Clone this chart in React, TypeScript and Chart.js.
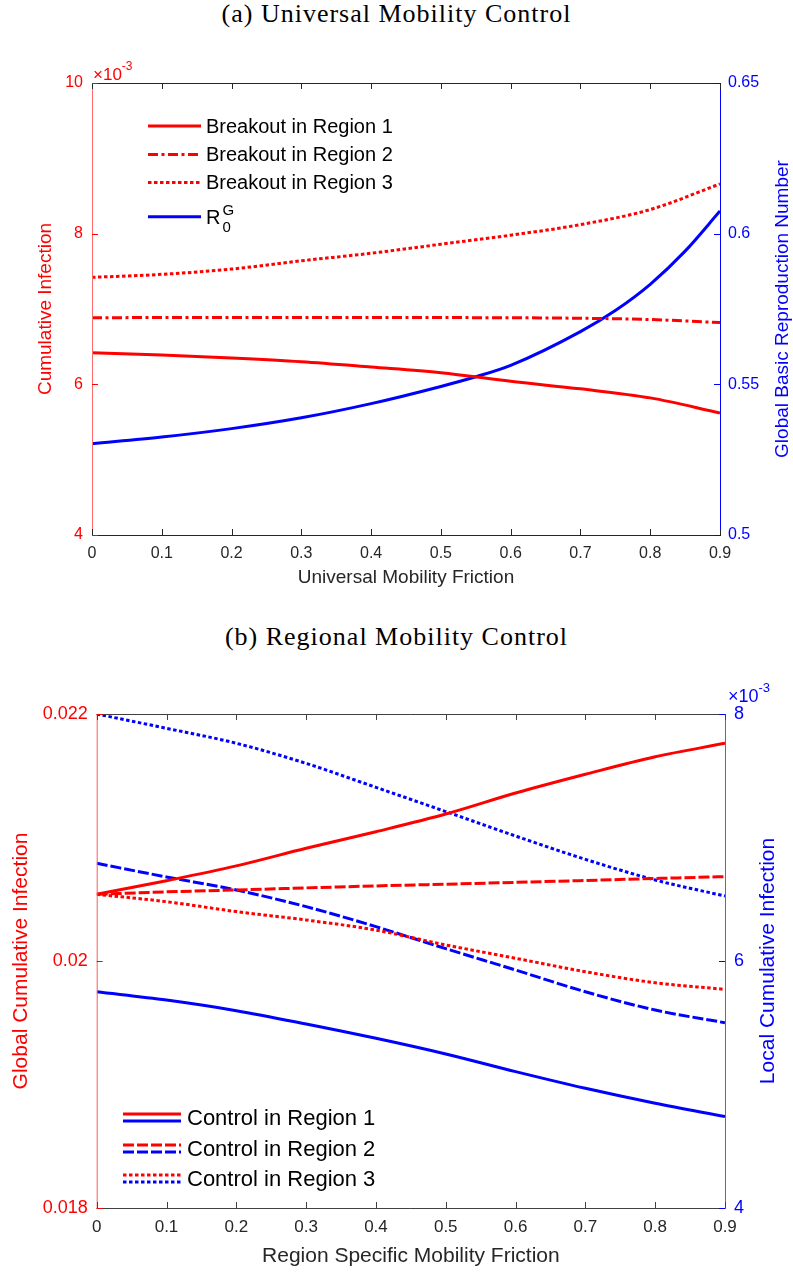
import React, { useEffect, useRef } from 'react';
import { Chart, registerables } from 'chart.js';

Chart.register(...registerables);

const SANS = '"Liberation Sans", Arial, Helvetica, sans-serif';
const SERIF = '"Liberation Serif", "Times New Roman", serif';

// ---------- (a) Universal Mobility Control ----------
const topX = [0, 0.1, 0.2, 0.3, 0.4, 0.5, 0.6, 0.7, 0.8, 0.9];
// Cumulative infection, in units of 1e-3
const breakout1 = [6.42, 6.39, 6.35, 6.3, 6.23, 6.155, 6.04, 5.94, 5.82, 5.62];
const breakout2 = [6.885, 6.886, 6.887, 6.887, 6.887, 6.886, 6.884, 6.877, 6.86, 6.82];
const breakout3 = [7.42, 7.46, 7.53, 7.64, 7.74, 7.86, 7.98, 8.12, 8.32, 8.66];
const r0X = [0, 0.1, 0.2, 0.3, 0.4, 0.5, 0.55, 0.6, 0.7, 0.75, 0.8, 0.85, 0.9];
const r0G = [0.5303, 0.5325, 0.5353, 0.5389, 0.5436, 0.5493, 0.5525, 0.5563, 0.5675, 0.5745, 0.5832, 0.5942, 0.6075];

const topXTicks = [0, 0.1, 0.2, 0.3, 0.4, 0.5, 0.6, 0.7, 0.8, 0.9];
const topXTickLabels = ['0', '0.1', '0.2', '0.3', '0.4', '0.5', '0.6', '0.7', '0.8', '0.9'];
const topLeftTicks = [4, 6, 8, 10];
const topLeftTickLabels = ['4', '6', '8', '10'];
const topRightTicks = [0.5, 0.55, 0.6, 0.65];
const topRightTickLabels = ['0.5', '0.55', '0.6', '0.65'];
const topLegend = ['Breakout in Region 1', 'Breakout in Region 2', 'Breakout in Region 3'];

// ---------- (b) Regional Mobility Control ----------
const botX = [0, 0.1, 0.2, 0.3, 0.4, 0.5, 0.6, 0.7, 0.8, 0.9];
const ctrl1Global = [0.02054, 0.02065, 0.02077, 0.020913, 0.021047, 0.02119, 0.02136, 0.021512, 0.021654, 0.021763];
const ctrl2Global = [0.02054, 0.02056, 0.020575, 0.020592, 0.020608, 0.020622, 0.020637, 0.020652, 0.020668, 0.020683];
const ctrl3Global = [0.02054, 0.02048, 0.0204, 0.020332, 0.02025, 0.02013, 0.020022, 0.019913, 0.019824, 0.01977];
// Local cumulative infection, in units of 1e-3
const ctrl1Local = [5.751, 5.684, 5.598, 5.49, 5.374, 5.247, 5.104, 4.969, 4.848, 4.74];
const ctrl2Local = [6.791, 6.68, 6.575, 6.44, 6.278, 6.1, 5.927, 5.751, 5.603, 5.5];
const ctrl3Local = [8.0, 7.884, 7.763, 7.6, 7.406, 7.21, 7.012, 6.823, 6.656, 6.526];

const botXTicks = [0, 0.1, 0.2, 0.3, 0.4, 0.5, 0.6, 0.7, 0.8, 0.9];
const botXTickLabels = ['0', '0.1', '0.2', '0.3', '0.4', '0.5', '0.6', '0.7', '0.8', '0.9'];
const botLeftTicks = [0.018, 0.02, 0.022];
const botLeftTickLabels = ['0.018', '0.02', '0.022'];
const botRightTicks = [4, 6, 8];
const botRightTickLabels = ['4', '6', '8'];
const botLegend = ['Control in Region 1', 'Control in Region 2', 'Control in Region 3'];

const RED = '#ff0000';
const BLUE = '#0000ff';
const DARK = '#262626';
const SOLID: number[] = [];
const DASHDOT = [10, 3.5, 3, 3.5];
const DOTTED = [3.5, 2.5];
const DASHED = [11, 3];

function pts(xs: number[], ys: number[]) {
  return xs.map((x, i) => ({ x, y: ys[i] }));
}

function ds(xs: number[], ys: number[], axis: string, color: string, dash: number[]) {
  return {
    data: pts(xs, ys),
    yAxisID: axis,
    borderColor: color,
    backgroundColor: color,
    borderWidth: 3,
    borderDash: dash,
    pointRadius: 0,
    fill: false,
    cubicInterpolationMode: 'monotone' as const,
  };
}

function line(ctx: CanvasRenderingContext2D, x1: number, y1: number, x2: number, y2: number, color: string, w = 1) {
  ctx.beginPath();
  ctx.strokeStyle = color;
  ctx.lineWidth = w;
  ctx.setLineDash([]);
  ctx.moveTo(x1, y1);
  ctx.lineTo(x2, y2);
  ctx.stroke();
}

function vText(ctx: CanvasRenderingContext2D, text: string, x: number, y: number, font: string, color: string) {
  ctx.save();
  ctx.translate(x, y);
  ctx.rotate(-Math.PI / 2);
  ctx.font = font;
  ctx.fillStyle = color;
  ctx.textAlign = 'center';
  ctx.textBaseline = 'middle';
  ctx.fillText(text, 0, 0);
  ctx.restore();
}

function scaleCfg(pos: string, min: number, max: number, ticks: number[], labels: string[], color: string, size: number, pad: number, fit: (s: any) => void) {
  return {
    type: 'linear' as const,
    position: pos,
    min,
    max,
    grid: { display: false, drawTicks: false },
    border: { display: false },
    afterBuildTicks: (s: any) => {
      s.ticks = ticks.map((v) => ({ value: v }));
    },
    afterFit: fit,
    ticks: {
      autoSkip: false,
      maxRotation: 0,
      padding: pad,
      color,
      font: { family: SANS, size },
      callback: (_v: any, i: number) => labels[i],
    },
  };
}

function TopChart() {
  const ref = useRef<HTMLCanvasElement>(null);
  useEffect(() => {
    const padTop = 43, leftW = 92, rightW = 73, xH = 65;
    const decor = {
      id: 'decorTop',
      afterDraw(chart: any) {
        const ctx: CanvasRenderingContext2D = chart.ctx;
        const { left, right, top, bottom } = chart.chartArea;
        const xs = chart.scales.x, yl = chart.scales.y, yr = chart.scales.y1;
        ctx.save();
        line(ctx, left, top + 0.5, right, top + 0.5, DARK);
        line(ctx, left, bottom + 0.5, right, bottom + 0.5, DARK);
        line(ctx, left + 0.5, top, left + 0.5, bottom + 1, '#ff6a6a');
        line(ctx, right + 0.5, top, right + 0.5, bottom + 1, BLUE);
        topXTicks.forEach((v) => {
          const px = Math.round(xs.getPixelForValue(v)) + 0.5;
          line(ctx, px, bottom, px, bottom - 6, DARK);
          line(ctx, px, top, px, top + 6, DARK);
        });
        topLeftTicks.forEach((v) => {
          const py = Math.round(yl.getPixelForValue(v)) + 0.5;
          line(ctx, left, py, left + 6, py, RED);
        });
        topRightTicks.forEach((v) => {
          const py = Math.round(yr.getPixelForValue(v)) + 0.5;
          line(ctx, right, py, right - 6, py, BLUE);
        });
        // axis titles
        vText(ctx, 'Cumulative Infection', left - 46, (top + bottom) / 2, `19px ${SANS}`, RED);
        vText(ctx, 'Global Basic Reproduction Number', right + 63, (top + bottom) / 2, `19px ${SANS}`, BLUE);
        ctx.font = `19px ${SANS}`;
        ctx.fillStyle = DARK;
        ctx.textAlign = 'center';
        ctx.textBaseline = 'middle';
        ctx.fillText('Universal Mobility Friction', (left + right) / 2, bottom + 43);
        // multiplier
        ctx.fillStyle = RED;
        ctx.textAlign = 'left';
        ctx.font = `17px ${SANS}`;
        ctx.fillText('\u00d710', left + 1, top - 8);
        const w10 = ctx.measureText('\u00d710').width;
        ctx.font = `12px ${SANS}`;
        ctx.fillText('-3', left + 1 + w10, top - 16);
        // legend
        const lx1 = left + 56, lx2 = left + 109, tx = left + 114;
        const rows = [top + 43, top + 71.5, top + 99.5, top + 133.7];
        const styles = [
          [RED, SOLID],
          [RED, DASHDOT],
          [RED, DOTTED],
          [BLUE, SOLID],
        ] as [string, number[]][];
        styles.forEach(([c, d], i) => {
          ctx.beginPath();
          ctx.strokeStyle = c;
          ctx.lineWidth = 3;
          ctx.setLineDash(d);
          ctx.moveTo(lx1, rows[i]);
          ctx.lineTo(lx2, rows[i]);
          ctx.stroke();
        });
        ctx.setLineDash([]);
        ctx.fillStyle = '#000000';
        ctx.font = `20px ${SANS}`;
        ctx.textAlign = 'left';
        ctx.textBaseline = 'middle';
        topLegend.forEach((t, i) => ctx.fillText(t, tx, rows[i] + 1));
        ctx.fillText('R', tx, rows[3] + 2);
        const rw = ctx.measureText('R').width;
        ctx.font = `15px ${SANS}`;
        ctx.fillText('G', tx + rw + 2, rows[3] - 6);
        ctx.fillText('0', tx + rw + 2, rows[3] + 11);
        ctx.restore();
      },
    };
    const chart = new Chart(ref.current as HTMLCanvasElement, {
      type: 'line',
      data: {
        datasets: [
          ds(topX, breakout1, 'y', RED, SOLID),
          ds(topX, breakout2, 'y', RED, DASHDOT),
          ds(topX, breakout3, 'y', RED, DOTTED),
          ds(r0X, r0G, 'y1', BLUE, SOLID),
        ] as any,
      },
      options: {
        responsive: false,
        animation: false,
        layout: { padding: { top: padTop, left: 0, right: 0, bottom: 0 }, autoPadding: false } as any,
        plugins: { legend: { display: false }, title: { display: false }, tooltip: { enabled: false } },
        scales: {
          x: scaleCfg('bottom', 0, 0.9, topXTicks, topXTickLabels, DARK, 16, 9, (s: any) => { s.height = xH; }),
          y: scaleCfg('left', 4, 10, topLeftTicks, topLeftTickLabels, RED, 16, 9, (s: any) => { s.width = leftW; }),
          y1: scaleCfg('right', 0.5, 0.65, topRightTicks, topRightTickLabels, BLUE, 16, 8, (s: any) => { s.width = rightW; }),
        } as any,
      },
      plugins: [decor],
    });
    return () => chart.destroy();
  }, []);
  return <canvas ref={ref} width={793} height={560} style={{ position: 'absolute', left: 0, top: 40, width: 793, height: 560 }} />;
}

function BottomChart() {
  const ref = useRef<HTMLCanvasElement>(null);
  useEffect(() => {
    const padTop = 54, leftW = 96.7, rightW = 68, xH = 67;
    const decor = {
      id: 'decorBot',
      afterDraw(chart: any) {
        const ctx: CanvasRenderingContext2D = chart.ctx;
        const { left, right, top, bottom } = chart.chartArea;
        const xs = chart.scales.x, yl = chart.scales.y, yr = chart.scales.y1;
        ctx.save();
        line(ctx, left, top + 0.5, right, top + 0.5, '#404040');
        line(ctx, left, bottom + 0.5, right, bottom + 0.5, '#404040');
        line(ctx, left + 0.5, top, left + 0.5, bottom + 1, '#ff5a5a');
        line(ctx, right + 0.5, top, right + 0.5, bottom + 1, '#5a5aff');
        botXTicks.forEach((v) => {
          const px = Math.round(xs.getPixelForValue(v)) + 0.5;
          line(ctx, px, bottom, px, bottom - 6, '#404040');
          line(ctx, px, top, px, top + 6, '#404040');
        });
        botLeftTicks.forEach((v) => {
          const py = Math.round(yl.getPixelForValue(v)) + 0.5;
          line(ctx, left, py, left + 6, py, RED);
        });
        botRightTicks.forEach((v) => {
          const py = Math.round(yr.getPixelForValue(v)) + 0.5;
          line(ctx, right, py, right - 6, py, BLUE);
        });
        vText(ctx, 'Global Cumulative Infection', left - 75, (top + bottom) / 2, `21px ${SANS}`, RED);
        vText(ctx, 'Local Cumulative Infection', right + 43, (top + bottom) / 2, `21px ${SANS}`, BLUE);
        ctx.font = `21px ${SANS}`;
        ctx.fillStyle = DARK;
        ctx.textAlign = 'center';
        ctx.textBaseline = 'middle';
        ctx.fillText('Region Specific Mobility Friction', (left + right) / 2, bottom + 48);
        // multiplier
        ctx.fillStyle = BLUE;
        ctx.textAlign = 'left';
        ctx.font = `18px ${SANS}`;
        ctx.fillText('\u00d710', right + 3, top - 17);
        const w10 = ctx.measureText('\u00d710').width;
        ctx.font = `13px ${SANS}`;
        ctx.fillText('-3', right + 3 + w10, top - 26);
        // legend (red over blue double lines)
        const lx1 = left + 26.3, lx2 = left + 84.3, tx = left + 90.3;
        const rows = [bottom - 90.5, bottom - 59.5, bottom - 29.5];
        const dashes = [SOLID, DASHED, DOTTED];
        dashes.forEach((d, i) => {
          [[RED, -3.5], [BLUE, 3.5]].forEach(([c, off]) => {
            ctx.beginPath();
            ctx.strokeStyle = c as string;
            ctx.lineWidth = 3;
            ctx.setLineDash(d);
            ctx.moveTo(lx1, rows[i] + (off as number));
            ctx.lineTo(lx2, rows[i] + (off as number));
            ctx.stroke();
          });
        });
        ctx.setLineDash([]);
        ctx.fillStyle = '#000000';
        ctx.font = `22px ${SANS}`;
        ctx.textAlign = 'left';
        ctx.textBaseline = 'middle';
        botLegend.forEach((t, i) => ctx.fillText(t, tx, rows[i] + 1));
        ctx.restore();
      },
    };
    const chart = new Chart(ref.current as HTMLCanvasElement, {
      type: 'line',
      data: {
        datasets: [
          ds(botX, ctrl1Global, 'y', RED, SOLID),
          ds(botX, ctrl2Global, 'y', RED, DASHED),
          ds(botX, ctrl3Global, 'y', RED, DOTTED),
          ds(botX, ctrl1Local, 'y1', BLUE, SOLID),
          ds(botX, ctrl2Local, 'y1', BLUE, DASHED),
          ds(botX, ctrl3Local, 'y1', BLUE, DOTTED),
        ] as any,
      },
      options: {
        responsive: false,
        animation: false,
        layout: { padding: { top: padTop, left: 0, right: 0, bottom: 0 }, autoPadding: false } as any,
        plugins: { legend: { display: false }, title: { display: false }, tooltip: { enabled: false } },
        scales: {
          x: scaleCfg('bottom', 0, 0.9, botXTicks, botXTickLabels, DARK, 17, 9, (s: any) => { s.height = xH; }),
          y: scaleCfg('left', 0.018, 0.022, botLeftTicks, botLeftTickLabels, RED, 18, 9, (s: any) => { s.width = leftW; }),
          y1: scaleCfg('right', 4, 8, botRightTicks, botRightTickLabels, BLUE, 18, 9, (s: any) => { s.width = rightW; }),
        } as any,
      },
      plugins: [decor],
    });
    return () => chart.destroy();
  }, []);
  return <canvas ref={ref} width={793} height={615} style={{ position: 'absolute', left: 0, top: 660, width: 793, height: 615 }} />;
}

const titleStyle: React.CSSProperties = {
  position: 'absolute',
  left: 0,
  width: 793,
  textAlign: 'center',
  fontFamily: SERIF,
  fontSize: 26,
  lineHeight: '28px',
  letterSpacing: '1px',
  color: '#000',
  whiteSpace: 'nowrap',
};

export default function App() {
  return (
    <div style={{ position: 'absolute', left: 0, top: 0, width: 793, height: 1275, background: '#fff' }}>
      <div style={{ ...titleStyle, top: 0 }}>(a) Universal Mobility Control</div>
      <TopChart />
      <div style={{ ...titleStyle, top: 623 }}>(b) Regional Mobility Control</div>
      <BottomChart />
    </div>
  );
}
